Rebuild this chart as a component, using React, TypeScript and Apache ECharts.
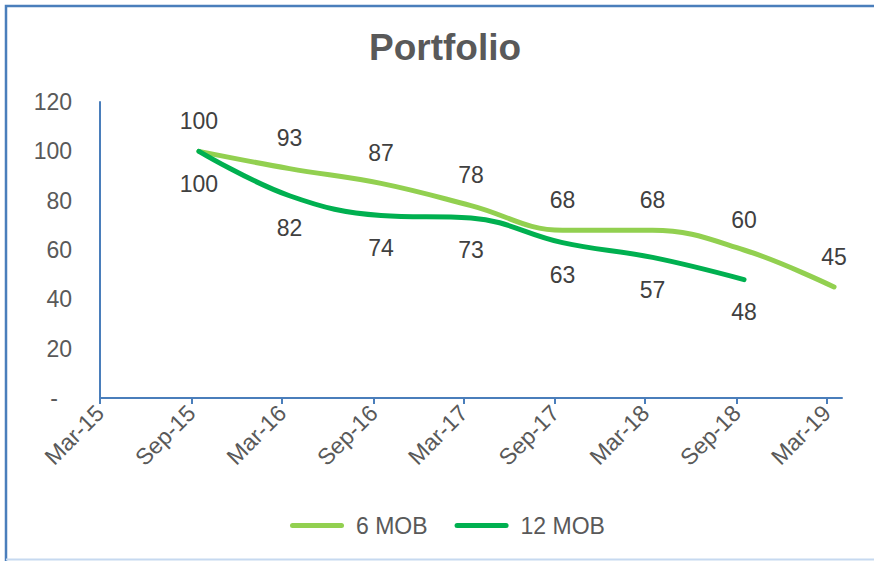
import React, { useEffect, useRef } from "react";
import * as echarts from "echarts";

const tickLabels = ["Mar-15", "Sep-15", "Mar-16", "Sep-16", "Mar-17", "Sep-17", "Mar-18", "Sep-18", "Mar-19"];
const tickDates = ["2015-03-01", "2015-09-01", "2016-03-01", "2016-09-01", "2017-03-01", "2017-09-01", "2018-03-01", "2018-09-01", "2019-03-01"];
const axisStart = "2015-03-01";
const axisEnd = "2019-04-01";
const obsDates = ["2015-09-16", "2016-03-16", "2016-09-16", "2017-03-16", "2017-09-16", "2018-03-16", "2018-09-16", "2019-03-16"];
const mob6 = [100, 93, 87, 78, 68, 68, 60, 45];
const mob12 = [100, 82, 74, 73, 63, 57, 48];
const yTicks = [0, 20, 40, 60, 80, 100, 120];

const DAY = 86400000;
const toMs = (s: string) => {
  const [y, m, d] = s.split("-").map(Number);
  return Date.UTC(y, m - 1, d);
};
// days elapsed since the axis start
const toDay = (s: string) => Math.round((toMs(s) - toMs(axisStart)) / DAY);

const AXIS_BLUE = "#4a7ebb";
const TEXT = "#595959";
const LABEL = "#404040";
const FONT = "Liberation Sans, Arial, sans-serif";
const FS = 23;

export default function App() {
  const ref = useRef<HTMLDivElement>(null);
  useEffect(() => {
    if (!ref.current) return;
    const chart = echarts.init(ref.current, undefined, { renderer: "svg" });
    const tickDays = tickDates.map(toDay);
    const labelFor = (v: number) => {
      const i = tickDays.findIndex((t) => Math.abs(t - v) < 0.5);
      return i >= 0 ? tickLabels[i] : "";
    };
    const pill = "path://M2.5,0 L51.5,0 A2.5,2.5 0 0 1 51.5,5 L2.5,5 A2.5,2.5 0 0 1 2.5,0 Z";
    chart.setOption({
      animation: false,
      textStyle: { fontFamily: FONT },
      title: {
        text: "Portfolio",
        left: 364,
        top: 24,
        textStyle: { fontSize: 37, fontWeight: "bold", color: TEXT, fontFamily: FONT },
      },
      grid: { left: 100, right: 32, top: 102, bottom: 163, containLabel: false },
      legend: {
        left: 285,
        top: 509,
        itemWidth: 54,
        itemHeight: 5,
        itemGap: 27,
        textStyle: { fontSize: FS, color: TEXT, fontFamily: FONT, padding: [0, 0, 0, 7] },
        data: [
          { name: "6 MOB", icon: pill },
          { name: "12 MOB", icon: pill },
        ],
      },
      xAxis: {
        type: "value",
        min: 0,
        max: toDay(axisEnd),
        axisLine: { show: true, onZero: false, lineStyle: { color: AXIS_BLUE, width: 2 } },
        axisTick: { show: true, length: 6, customValues: tickDays, lineStyle: { color: AXIS_BLUE, width: 2 } },
        axisLabel: {
          customValues: tickDays,
          rotate: 45,
          margin: 11,
          fontSize: FS,
          color: TEXT,
          fontFamily: FONT,
          hideOverlap: false,
          formatter: (v: number) => labelFor(v),
        },
        splitLine: { show: false },
        minorTick: { show: false },
      },
      yAxis: {
        type: "value",
        min: yTicks[0],
        max: yTicks[yTicks.length - 1],
        interval: 20,
        axisLine: { show: true, lineStyle: { color: AXIS_BLUE, width: 2 } },
        axisTick: { show: false },
        splitLine: { show: false },
        axisLabel: {
          margin: 28,
          fontSize: FS,
          color: TEXT,
          fontFamily: FONT,
          formatter: (v: number) => (v === 0 ? "{d|-}" : String(v)),
          rich: { d: { fontSize: FS, color: TEXT, fontFamily: FONT, padding: [0, 14, 0, 0] } },
        },
      },
      series: [
        {
          name: "6 MOB",
          type: "line",
          smooth: 0.4,
          symbol: "circle",
          symbolSize: 0,
          showSymbol: true,
          color: "#92d050",
          lineStyle: { width: 5, color: "#92d050", cap: "round", join: "round" },
          data: mob6.map((v, i) => [toDay(obsDates[i]), v]),
          label: {
            show: true,
            position: "top",
            distance: 19,
            fontSize: FS,
            color: LABEL,
            fontFamily: FONT,
          },
          labelLayout: { hideOverlap: false },
          z: 2,
        },
        {
          name: "12 MOB",
          type: "line",
          smooth: 0.4,
          symbol: "circle",
          symbolSize: 0,
          showSymbol: true,
          color: "#00b050",
          lineStyle: { width: 5, color: "#00b050", cap: "round", join: "round" },
          data: mob12.map((v, i) => [toDay(obsDates[i]), v]),
          label: {
            show: true,
            position: "bottom",
            distance: 21,
            fontSize: FS,
            color: LABEL,
            fontFamily: FONT,
          },
          labelLayout: { hideOverlap: false },
          z: 3,
        },
      ],
      graphic: [
        {
          type: "polyline",
          silent: true,
          shape: { points: [[6, 561], [6, 6], [874, 6]] },
          style: { stroke: AXIS_BLUE, lineWidth: 2.5, fill: "none" },
        },
        {
          type: "line",
          silent: true,
          shape: { x1: 6, y1: 559.5, x2: 874, y2: 559.5 },
          style: { stroke: "#c6d9f0", lineWidth: 2 },
        },
      ],
    });
    return () => chart.dispose();
  }, []);
  return (
    <div
      ref={ref}
      style={{ position: "fixed", left: 0, top: 0, width: 874, height: 561, background: "#fff" }}
    />
  );
}
